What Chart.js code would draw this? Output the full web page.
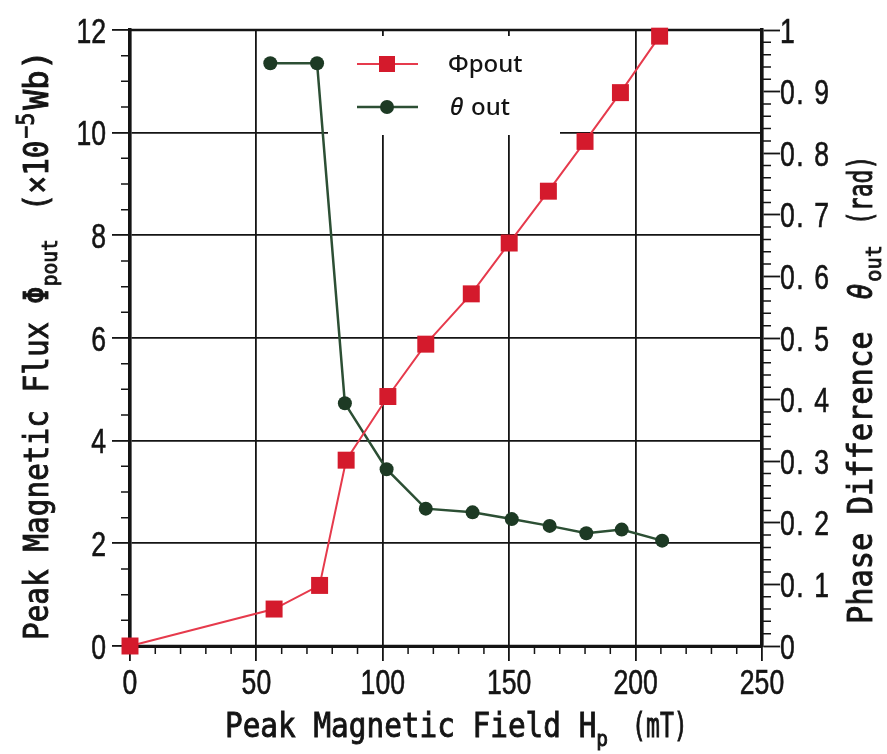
<!DOCTYPE html>
<html>
<head>
<meta charset="utf-8">
<script src="https://cdn.jsdelivr.net/npm/chart.js@4.4.1/dist/chart.umd.min.js"></script>
<style>
  body { margin: 0; background: #fff; }
  canvas { display: block; }
</style>
</head>
<body>
<canvas id="chart" width="887" height="754"></canvas>
<script>
// Peak magnetic field Hp (mT) for each series
const fieldPhi = [0, 57, 75, 85.5, 102, 117, 135, 150, 165.5, 180, 194, 209.5];
const fieldTheta = [55.5, 74, 85, 101.5, 117, 135.5, 151, 166, 180.5, 194.5, 210.5];

// Peak magnetic flux (x10^-5 Wb) and phase difference (rad)
const phiOut = [0, 0.72, 1.18, 3.62, 4.86, 5.88, 6.86, 7.85, 8.86, 9.83, 10.78, 11.88];
const thetaOut = [0.946, 0.946, 0.394, 0.287, 0.223, 0.217, 0.206, 0.195, 0.183, 0.189, 0.171];

const seriesNames = ['Φpout', 'θout'];

// tick labels
const xTickLabels = ['0', '50', '100', '150', '200', '250'];
const leftTickLabels = ['0', '2', '4', '6', '8', '10', '12'];
const rightTickLabels = ['0', '0. 1', '0. 2', '0. 3', '0. 4', '0. 5', '0. 6', '0. 7', '0. 8', '0. 9', '1'];

const RED_LINE = '#e63a4c';
const RED_FILL = '#d41a2c';
const GREEN_LINE = '#2c4f34';
const GREEN_FILL = '#1d3a24';
const INK = '#141414';

const TITLE_FONT = '"DejaVu Sans Mono", monospace';
const TICK_FONT = '35px "Liberation Sans", Arial, sans-serif';

// draws a run of text pieces (sub/superscripts), each piece may have its own x-scale
function drawRich(ctx, parts, x, y, rot, sx) {
    ctx.save();
    ctx.translate(x, y);
    ctx.rotate(rot);
    ctx.fillStyle = INK;
    ctx.strokeStyle = INK;
    ctx.lineWidth = 0.9;
    ctx.textAlign = 'left';
    ctx.textBaseline = 'alphabetic';
    let cx = 0;
    parts.forEach(function(p) {
        const k = p.sx || sx;
        ctx.font = p.font;
        ctx.save();
        ctx.translate(cx, p.dy || 0);
        ctx.scale(k, 1);
        ctx.fillText(p.t, 0, 0);
        ctx.strokeText(p.t, 0, 0);
        ctx.restore();
        cx += ctx.measureText(p.t).width * k + (p.gap || 0);
    });
    ctx.restore();
}

function drawTick(ctx, text, x, y, align, sx, spacing) {
    ctx.save();
    ctx.translate(x, y);
    ctx.scale(sx, 1);
    ctx.font = TICK_FONT;
    if (spacing) ctx.letterSpacing = spacing;
    ctx.fillStyle = INK;
    ctx.strokeStyle = INK;
    ctx.lineWidth = 0.6;
    ctx.textAlign = align;
    ctx.textBaseline = 'alphabetic';
    ctx.fillText(text, 0, 0);
    ctx.strokeText(text, 0, 0);
    ctx.restore();
}

// white legend box, frame and minor ticks (drawn over the grid, under the data)
const framePlugin = {
    id: 'frame',
    beforeDatasetsDraw(chart) {
        const ctx = chart.ctx;
        const a = chart.chartArea;
        const xs = chart.scales.x, yl = chart.scales.y, yr = chart.scales.y1;

        ctx.save();
        ctx.fillStyle = '#fff';
        ctx.fillRect(a.left + 198, a.top + 6, 232, 99);

        ctx.strokeStyle = INK;
        ctx.lineWidth = 1.5;
        ctx.beginPath();
        for (let v = 10; v < 250; v += 10) {
            if (v % 50 === 0) continue;
            const px = xs.getPixelForValue(v);
            ctx.moveTo(px, a.bottom);
            ctx.lineTo(px, a.bottom + 8);
        }
        for (let i = 1; i < 24; i++) {
            if (i % 4 === 0) continue;
            const py = yl.getPixelForValue(i * 0.5);
            ctx.moveTo(a.left - 9, py);
            ctx.lineTo(a.left, py);
        }
        for (let i = 1; i < 50; i++) {
            if (i % 5 === 0) continue;
            const py = yr.getPixelForValue(i * 0.02);
            ctx.moveTo(a.right, py);
            ctx.lineTo(a.right + 9, py);
        }
        ctx.stroke();

        ctx.lineWidth = 2.5;
        ctx.strokeRect(a.left, a.top, a.right - a.left, a.bottom - a.top);
        ctx.restore();
    },
    afterDraw(chart) {
        const ctx = chart.ctx;
        const a = chart.chartArea;
        const xs = chart.scales.x, yl = chart.scales.y, yr = chart.scales.y1;

        // tick labels
        xs.ticks.forEach(function(t) {
            drawTick(ctx, t.label, xs.getPixelForValue(t.value), a.bottom + 48, 'center', 0.76);
        });
        yl.ticks.forEach(function(t) {
            drawTick(ctx, t.label, a.left - 24, yl.getPixelForValue(t.value) + 12.5, 'right', 0.76);
        });
        yr.ticks.forEach(function(t) {
            drawTick(ctx, t.label, a.right + 18, yr.getPixelForValue(t.value) + 12.5, 'left', 0.76, '2px');
        });

        // axis titles
        const big = '33px ' + TITLE_FONT;
        const small = '22px ' + TITLE_FONT;
        drawRich(ctx, [
            { t: 'Peak Magnetic Field H', font: big },
            { t: 'p', font: small, dy: 9, gap: 24 },
            { t: '(mT)', font: big, sx: 0.7 }
        ], 225, 737, 0, 0.89);

        drawRich(ctx, [
            { t: 'Peak Magnetic Flux Φ', font: big },
            { t: 'pout', font: small, dy: 9, gap: 28 },
            { t: '(×10', font: big, gap: 2 },
            { t: '−5', font: '24px ' + TITLE_FONT, dy: -14, gap: 3 },
            { t: 'Wb)', font: big, sx: 1.0 }
        ], 48, 640, -Math.PI / 2, 0.89);

        drawRich(ctx, [
            { t: 'Phase Difference', font: big, gap: 32 },
            { t: 'θ', font: 'italic 33px ' + TITLE_FONT, sx: 0.8, gap: 2 },
            { t: 'out', font: small, dy: 9, gap: 20 },
            { t: '(rad)', font: big, sx: 0.7 }
        ], 872, 624, -Math.PI / 2, 0.92);

        // legend
        const lx = a.left + 227, mx = a.left + 257, tx = a.left + 318;
        const y1 = a.top + 34, y2 = a.top + 77;
        ctx.save();
        ctx.lineWidth = 2;
        ctx.strokeStyle = RED_LINE;
        ctx.beginPath(); ctx.moveTo(lx, y1); ctx.lineTo(lx + 61, y1); ctx.stroke();
        ctx.fillStyle = RED_FILL;
        ctx.fillRect(mx - 8, y1 - 8, 16, 16);
        ctx.lineWidth = 2.5;
        ctx.strokeStyle = GREEN_LINE;
        ctx.beginPath(); ctx.moveTo(lx, y2); ctx.lineTo(lx + 61, y2); ctx.stroke();
        ctx.fillStyle = GREEN_FILL;
        ctx.beginPath(); ctx.arc(mx, y2, 7, 0, Math.PI * 2); ctx.fill();

        ctx.fillStyle = INK;
        ctx.textBaseline = 'alphabetic';
        ctx.font = '500 24px "Noto Sans", sans-serif';
        ctx.fillText(seriesNames[0], tx, y1 + 8);
        ctx.font = 'italic 500 24px "Noto Sans", sans-serif';
        ctx.fillText('θ', tx + 2, y2 + 8);
        const w = ctx.measureText('θ').width;
        ctx.font = '500 24px "Noto Sans", sans-serif';
        ctx.fillText('out', tx + 2 + w + 8, y2 + 8);
        ctx.restore();
    }
};

new Chart(document.getElementById('chart').getContext('2d'), {
    type: 'scatter',
    data: {
        datasets: [{
            label: seriesNames[0],
            data: fieldPhi.map(function(x, i) { return { x: x, y: phiOut[i] }; }),
            yAxisID: 'y',
            showLine: true,
            borderColor: RED_LINE,
            borderWidth: 2,
            pointStyle: 'rect',
            pointRadius: 12,
            pointBackgroundColor: RED_FILL,
            pointBorderColor: RED_FILL,
            pointBorderWidth: 0,
            clip: false
        }, {
            label: seriesNames[1],
            data: fieldTheta.map(function(x, i) { return { x: x, y: thetaOut[i] }; }),
            yAxisID: 'y1',
            showLine: true,
            borderColor: GREEN_LINE,
            borderWidth: 2.5,
            pointStyle: 'circle',
            pointRadius: 7,
            pointBackgroundColor: GREEN_FILL,
            pointBorderColor: GREEN_FILL,
            pointBorderWidth: 0,
            clip: false
        }]
    },
    options: {
        responsive: false,
        animation: false,
        layout: { padding: { top: 30, left: 0, right: 0, bottom: 0 }, autoPadding: false },
        plugins: {
            legend: { display: false },
            tooltip: { enabled: false }
        },
        scales: {
            x: {
                type: 'linear',
                min: 0,
                max: 250,
                ticks: { stepSize: 50, display: false, callback: function(v, i) { return xTickLabels[i]; } },
                grid: { color: INK, lineWidth: 1.8, tickLength: 15, tickColor: INK, tickWidth: 1.8 },
                border: { color: INK, width: 3 },
                afterFit: function(s) { s.height = 108; }
            },
            y: {
                position: 'left',
                min: 0,
                max: 12,
                ticks: { stepSize: 2, display: false, callback: function(v, i) { return leftTickLabels[i]; } },
                grid: { color: INK, lineWidth: 1.8, tickLength: 18, tickColor: INK, tickWidth: 1.8 },
                border: { color: INK, width: 3.5 },
                afterFit: function(s) { s.width = 130; }
            },
            y1: {
                position: 'right',
                min: 0,
                max: 1,
                ticks: { stepSize: 0.1, display: false, callback: function(v, i) { return rightTickLabels[i]; } },
                grid: { drawOnChartArea: false, tickLength: 18, tickColor: INK, tickWidth: 1.8 },
                border: { color: INK, width: 3.5 },
                afterFit: function(s) { s.width = 125; }
            }
        }
    },
    plugins: [framePlugin]
});
</script>
</body>
</html>
